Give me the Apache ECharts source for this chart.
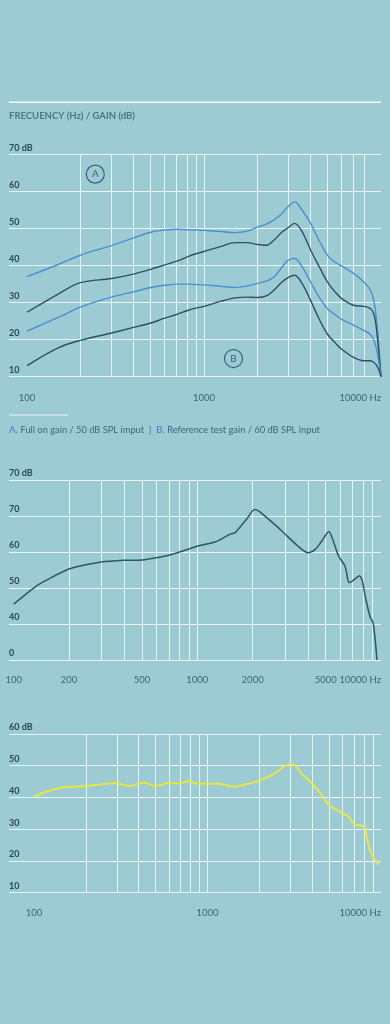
<!DOCTYPE html>
<html>
<head>
<meta charset="utf-8">
<script src="https://cdn.jsdelivr.net/npm/echarts@6.0.0/dist/echarts.min.js"></script>
<style>
html,body{margin:0;padding:0;background:#9dcbd4;}
#chart{width:390px;height:1024px;}
</style>
</head>
<body>
<div id="chart"></div>
<script>
// ---------- Chart 1: frequency response A / B ----------
const freq1 = [100,150,200,300,400,500,600,700,800,900,1000,1250,1500,1750,2000,2250,2500,2750,3000,3250,3600,4000,4500,5000,5500,6000,7000,8000,8700,9100,9400,9700,10000];
const fullOnUpper  = [37.0,40.3,42.8,45.4,47.5,49.0,49.6,49.8,49.7,49.6,49.5,49.2,48.9,49.3,50.4,51.2,52.4,54.0,56.0,57.2,54.8,51.4,46.5,42.7,40.9,39.9,37.9,35.6,33.4,30.6,26.0,19.0,10];
const fullOnLower  = [27.4,32.3,35.4,36.5,37.7,39.0,40.2,41.2,42.3,43.2,43.8,45.2,46.2,46.2,45.7,45.5,47.0,49.0,50.3,51.4,49.0,44.2,39.5,35.5,32.9,31.1,29.3,29.0,28.4,27.0,23.4,17.0,10];
const refUpper     = [22.3,26.0,28.8,31.5,32.9,34.1,34.7,35.0,35.0,34.9,34.8,34.4,34.1,34.5,35.2,35.8,37.0,39.5,41.5,41.9,39.5,35.6,31.3,28.3,26.8,25.5,23.9,22.5,21.4,20.0,17.8,14.3,10];
const refLower     = [13.0,17.8,19.8,21.8,23.3,24.5,25.8,26.8,27.8,28.5,29.0,30.4,31.3,31.5,31.4,31.8,33.5,35.5,36.8,37.4,35.0,30.6,25.3,21.4,19.2,17.4,15.2,14.3,14.3,13.9,13.2,12.0,10];
const yTicks1 = [10,20,30,40,50,60,70];
const yLabels1 = ['10','20','30','40','50','60','70 dB'];
const xLabelValues1 = [100,1000,10000];
const xLabelTexts1 = ['100','1000','10000 Hz'];
const xGrid1 = [200,300,400,500,600,700,800,900,1000,2000,3000,4000,5000,6000,7000,8000];
const badgeA = [243, 64.7];
const badgeB = [1467, 14.9];

// ---------- Chart 2 ----------
const freq2 = [100,130,150,200,300,400,500,600,700,800,1000,1250,1320,1500,1600,1870,2050,2200,2740,3000,3500,4000,4400,4750,5200,5630,5870,6380,6600,6700,7250,7620,7900,8220,8720,9050,9300,9500];
const gain2 = [45.5,50.2,52.1,55.3,57.2,57.7,57.8,58.4,59.1,60.0,61.6,62.8,63.3,64.9,65.3,69.4,71.8,71.1,66.9,65.0,61.8,59.8,60.8,63.0,65.7,61.5,58.9,56.0,52.2,51.5,52.6,53.4,52.1,47.5,42.0,40.3,35.6,30];
const yTicks2 = [30,40,50,60,70,80];
const yLabels2 = ['0','40','50','60','70','70 dB'];
const xLabelValues2 = [100,200,500,1000,2000,5000,10000];
const xLabelTexts2 = ['100','200','500','1000','2000','5000','10000 Hz'];
const xGrid2 = [200,300,400,500,600,700,800,900,1000,2000,3000,4000,5000,6000,7000,8000,9000];

// ---------- Chart 3 ----------
const freq3 = [100,113,130,148,169,200,242,300,316,362,400,433,500,590,700,770,880,1000,1160,1440,1715,2000,2444,2800,3000,3190,3480,4000,4565,5000,6000,6490,7000,8000,8430,9000,9730];
const gain3 = [40.2,41.5,42.5,43.2,43.4,43.6,44.1,44.6,44.2,43.6,44.3,44.7,43.6,44.5,44.5,45.2,44.3,44.3,44.3,43.4,44.3,45.3,47.6,50.0,50.5,50.3,47.6,44.5,40.7,37.6,35.1,34.0,31.6,30.8,25.5,21.2,18.9];
const yTicks3 = [10,20,30,40,50,60];
const yLabels3 = ['10','20','30','40','50','60 dB'];
const xLabelValues3 = [100,1000,10000];
const xLabelTexts3 = ['100','1000','10000 Hz'];
const xGrid3 = [200,300,400,500,600,700,800,900,1000,2000,3000,4000,5000,6000,7000,8000,9000];

const FONT = 'Lato, "Open Sans", sans-serif';
const GRID_LINE = 'rgba(255,255,255,0.78)';
const Y_LABEL = '#2c4853';
const X_LABEL = '#3e6672';
const BLUE = '#4a8fd2';
const DARK = '#2e5060';

function pairs(xs, ys){ return xs.map((x,i)=>[x, ys[i]]); }
function labelMap(vals, texts){ return v => { for (let i=0;i<vals.length;i++){ if (Math.abs(vals[i]-v) < 1e-6*Math.max(1,vals[i])) return texts[i]; } return ''; }; }

function xAxis(gi, min, labelVals, labelTexts, gridVals, margin){
  return {
    type:'log', logBase:10, gridIndex:gi, min:min, max:10000,
    axisLine:{show:false},
    axisTick:{show:false, customValues:gridVals},
    splitLine:{show:true, lineStyle:{color:GRID_LINE, width:1}},
    minorTick:{show:false}, minorSplitLine:{show:false},
    axisLabel:{
      show:true, customValues:labelVals, formatter:labelMap(labelVals,labelTexts),
      color:X_LABEL, fontFamily:FONT, fontSize:9.5, margin:margin,
      alignMaxLabel:'right', showMinLabel:true, showMaxLabel:true, hideOverlap:false
    }
  };
}
function yAxis(gi, ticks, texts){
  return {
    type:'value', gridIndex:gi, min:ticks[0], max:ticks[ticks.length-1], interval:ticks[1]-ticks[0],
    axisLine:{show:false}, axisTick:{show:false},
    splitLine:{show:true, lineStyle:{color:GRID_LINE, width:1}},
    axisLabel:{
      show:true, inside:true, margin:0, formatter:labelMap(ticks,texts),
      color:Y_LABEL, fontFamily:FONT, fontWeight:'bold', fontSize:9,
      verticalAlign:'bottom', align:'left', lineHeight:9, padding:[0,0,2,0],
      showMinLabel:true, showMaxLabel:true
    }
  };
}
function line(xi, data, color, width, extra){
  return Object.assign({
    type:'line', xAxisIndex:xi, yAxisIndex:xi, data:data, showSymbol:false, symbol:'none',
    smooth:0.35, lineStyle:{color:color, width:width}, itemStyle:{color:color},
    silent:true, animation:false, z:5
  }, extra||{});
}
function badge(coord, letter){
  return {
    symbol:'circle', symbolSize:18, silent:true, animation:false,
    itemStyle:{color:'rgba(0,0,0,0)', borderColor:'#3a6272', borderWidth:1.2},
    label:{show:true, position:'inside', formatter:letter, color:'#3a6272', fontFamily:FONT, fontSize:10},
    data:[{coord:coord, name:letter}]
  };
}

const chart = echarts.init(document.getElementById('chart'), null, {renderer:'canvas'});
chart.setOption({
  backgroundColor:'#9dcbd4',
  animation:false,
  textStyle:{fontFamily:FONT},
  grid:[
    {left:9, right:9, top:154.5, height:222.2, containLabel:false},
    {left:9, right:9, top:480, height:180, containLabel:false},
    {left:9, right:9, top:734, height:158.7, containLabel:false}
  ],
  xAxis:[
    xAxis(0, 79.1, xLabelValues1, xLabelTexts1, xGrid1, 16),
    xAxis(1, 94.3, xLabelValues2, xLabelTexts2, xGrid2, 15),
    xAxis(2, 71.8, xLabelValues3, xLabelTexts3, xGrid3, 15)
  ],
  yAxis:[
    yAxis(0, yTicks1, yLabels1),
    yAxis(1, yTicks2, yLabels2),
    yAxis(2, yTicks3, yLabels3)
  ],
  series:[
    line(0, pairs(freq1, fullOnUpper), BLUE, 1.4, {markPoint:badge(badgeA,'A')}),
    line(0, pairs(freq1, fullOnLower), DARK, 1.4),
    line(0, pairs(freq1, refUpper), BLUE, 1.4),
    line(0, pairs(freq1, refLower), DARK, 1.4, {markPoint:badge(badgeB,'B')}),
    line(1, pairs(freq2, gain2), '#2f5667', 1.5, {smooth:0.25}),
    line(2, pairs(freq3, gain3), '#e6e83c', 2, {smooth:0.25})
  ],
  graphic:[
    {type:'rect', shape:{x:9, y:101.5, width:372, height:1.6}, style:{fill:'#f4fafb'}, silent:true},
    {type:'text', x:9, y:116, style:{text:'FRECUENCY (Hz) / GAIN (dB)', fill:'#4b7683', font:'bold 9.5px Lato, sans-serif', verticalAlign:'middle'}, silent:true},
    {type:'rect', shape:{x:9, y:414.5, width:59, height:1}, style:{fill:'#eaf5f7'}, silent:true},
    {type:'text', x:9, y:429.5, style:{
      text:'{a|A.} Full on gain / 50 dB SPL imput  |  {a|B.} Reference test gain / 60 dB SPL input',
      fill:'#3d6874', font:'9.3px Lato, sans-serif', verticalAlign:'middle',
      rich:{a:{fill:'#3c7fbf', font:'10px Lato, sans-serif'}}
    }, silent:true}
  ]
});
</script>
</body>
</html>
